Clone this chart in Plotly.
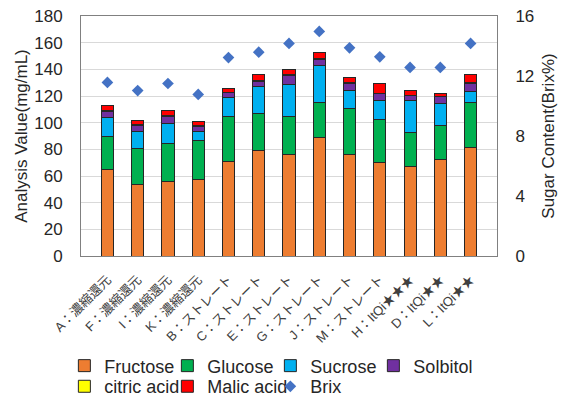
import plotly.graph_objects as go

categories = ["A：濃縮還元", "F：濃縮還元", "I：濃縮還元", "K：濃縮還元",
              "B：ストレート", "C：ストレート", "E：ストレート", "G：ストレート",
              "J：ストレート", "M：ストレート", "H：ItQi★★★", "D：ItQi★★", "L：ItQi★★"]
fructose = [64.7, 53.4, 55.7, 57.6, 71.1, 79.1, 75.9, 89.1, 76.1, 69.9, 67.4, 72.6, 81.2]
glucose = [24.7, 27.0, 28.7, 29.0, 33.5, 27.6, 29.0, 25.8, 34.6, 32.3, 25.0, 25.5, 34.2]
sucrose = [14.3, 12.8, 15.2, 7.0, 14.1, 20.7, 23.8, 28.2, 13.2, 14.2, 24.0, 16.5, 8.2]
solbitol = [4.9, 4.7, 5.3, 3.8, 3.7, 3.5, 6.9, 4.3, 5.7, 5.3, 3.8, 4.8, 5.8]
citric_acid = [0.8, 0.5, 0.5, 0.5, 0.4, 0.4, 0.4, 0.4, 0.4, 0.4, 0.4, 0.4, 0.4]
malic_acid = [3.5, 3.3, 3.8, 3.2, 2.8, 4.9, 3.9, 4.6, 4.1, 7.1, 3.6, 2.1, 6.2]
brix = [11.57, 11.03, 11.5, 10.77, 13.23, 13.59, 14.17, 14.97, 13.88, 13.28, 12.57, 12.57, 14.17]

FONT = "Liberation Sans, Arial, Noto Sans CJK JP, sans-serif"
TXT = "#262626"

series = [
    ("Fructose", fructose, "#ED7D31", "legend"),
    ("Glucose", glucose, "#00B050", "legend"),
    ("Sucrose", sucrose, "#00B0F0", "legend"),
    ("Solbitol", solbitol, "#7030A0", "legend"),
    ("citric acid", citric_acid, "#FFFF00", "legend2"),
    ("Malic acid", malic_acid, "#FF0000", "legend2"),
]

fig = go.Figure()
for name, vals, color, lg in series:
    fig.add_trace(go.Bar(
        x=categories, y=vals, name=name, width=0.4,
        marker=dict(color=color, line=dict(color="#262626", width=1)),
        legend=lg,
    ))

fig.add_trace(go.Scatter(
    x=categories, y=brix, name="Brix", mode="markers", yaxis="y2",
    marker=dict(symbol="diamond", size=9, color="#4472C4"),
    legend="legend2",
))

legend_common = dict(
    orientation="h", xanchor="left", yanchor="top", traceorder="normal",
    entrywidth=58, entrywidthmode="pixels", itemwidth=30,
    font=dict(family=FONT, size=18, color=TXT),
    bgcolor="rgba(0,0,0,0)", tracegroupgap=0,
)

fig.update_layout(
    width=564, height=404,
    margin=dict(l=81, r=67, t=16, b=148, autoexpand=False),
    paper_bgcolor="white", plot_bgcolor="white",
    barmode="stack", bargap=0.6,
    font=dict(family=FONT, color=TXT),
    showlegend=True,
    legend=dict(x=-0.04, y=-0.381, **legend_common),
    legend2=dict(x=-0.04, y=-0.467, **legend_common),
    xaxis=dict(
        tickangle=-45, tickfont=dict(family=FONT, size=13, color="#404040"),
        showline=True, linecolor="#808080", linewidth=1, mirror=True,
        showgrid=False, ticks="", ticklabelstandoff=10,
    ),
    yaxis=dict(
        range=[0, 180], dtick=20,
        title=dict(text="Analysis Value(mg/mL)", font=dict(size=17, family=FONT, color=TXT), standoff=2),
        tickfont=dict(size=17, family=FONT, color=TXT),
        showgrid=True, gridcolor="#D9D9D9", gridwidth=1,
        showline=True, linecolor="#808080", linewidth=1,
        zeroline=False, ticks="", ticklabelstandoff=14,
    ),
    yaxis2=dict(
        range=[0, 16], dtick=4, overlaying="y", side="right",
        title=dict(text="Sugar Content(Brix%)", font=dict(size=17, family=FONT, color=TXT), standoff=8),
        tickfont=dict(size=17, family=FONT, color=TXT),
        showgrid=False, showline=True, linecolor="#808080", linewidth=1,
        zeroline=False, ticks="", ticklabelstandoff=14,
    ),
)

fig.write_html("out.html", config={"displayModeBar": False},
               post_script="document.body.style.margin='0';")
